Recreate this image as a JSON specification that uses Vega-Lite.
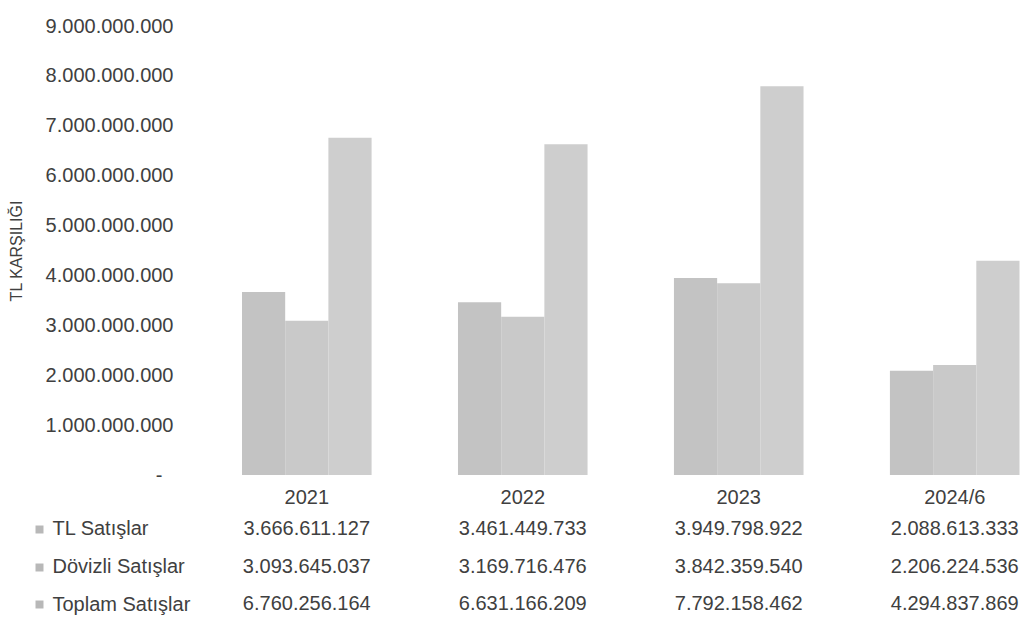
{
  "$schema": "https://vega.github.io/schema/vega-lite/v6.json",
  "padding": {"left": 8, "top": 16, "right": 0, "bottom": 0},
  "background": "white",
  "spacing": 2,
  "config": {
    "locale": {"number": {"decimal": ",", "thousands": ".", "grouping": [3], "currency": ["", " TL"]}},
    "view": {"stroke": null},
    "font": "Liberation Sans",
    "axis": {"labelFont": "Liberation Sans", "titleFont": "Liberation Sans", "labelColor": "#404040", "titleColor": "#404040"}
  },
  "data": {
    "values": [
      {"year": "2021", "series": "TL Satışlar", "value": 3666611127},
      {"year": "2021", "series": "Dövizli Satışlar", "value": 3093645037},
      {"year": "2021", "series": "Toplam Satışlar", "value": 6760256164},
      {"year": "2022", "series": "TL Satışlar", "value": 3461449733},
      {"year": "2022", "series": "Dövizli Satışlar", "value": 3169716476},
      {"year": "2022", "series": "Toplam Satışlar", "value": 6631166209},
      {"year": "2023", "series": "TL Satışlar", "value": 3949798922},
      {"year": "2023", "series": "Dövizli Satışlar", "value": 3842359540},
      {"year": "2023", "series": "Toplam Satışlar", "value": 7792158462},
      {"year": "2024/6", "series": "TL Satışlar", "value": 2088613333},
      {"year": "2024/6", "series": "Dövizli Satışlar", "value": 2206224536},
      {"year": "2024/6", "series": "Toplam Satışlar", "value": 4294837869}
    ]
  },
  "vconcat": [
    {
      "width": 822,
      "height": 449,
      "mark": {"type": "bar"},
      "encoding": {
        "x": {"field": "year", "type": "nominal", "sort": null, "scale": {"type": "band", "paddingInner": 0.4, "paddingOuter": 0.103, "align": 0.944}, "axis": null},
        "xOffset": {"field": "series", "type": "nominal", "sort": ["TL Satışlar", "Dövizli Satışlar", "Toplam Satışlar"]},
        "y": {
          "field": "value", "type": "quantitative",
          "scale": {"domain": [0, 9000000000], "nice": false},
          "axis": {
            "values": [0, 1000000000, 2000000000, 3000000000, 4000000000, 5000000000, 6000000000, 7000000000, 8000000000, 9000000000],
            "format": ",d",
            "labelExpr": "datum.value == 0 ? '-' : datum.label",
            "title": "TL KARŞILIĞI",
            "titleFontSize": 16,
            "titleFontWeight": "normal",
            "titlePadding": 21,
            "labelFontSize": 20,
            "labelPadding": {"condition": {"test": "datum.value == 0", "value": 38}, "value": 27},
            "ticks": false,
            "domain": false,
            "grid": false
          }
        },
        "color": {
          "field": "series", "type": "nominal",
          "scale": {"domain": ["TL Satışlar", "Dövizli Satışlar", "Toplam Satışlar"], "range": ["#c3c3c3", "#c9c9c9", "#cecece"]},
          "legend": null
        }
      }
    },
    {
      "width": 822,
      "height": 113,
      "mark": {"type": "text", "fontSize": 20, "font": "Liberation Sans", "color": "#404040"},
      "encoding": {
        "x": {
          "field": "year", "type": "nominal", "sort": null,
          "scale": {"type": "band", "paddingInner": 0.4, "paddingOuter": 0.103, "align": 0.944},
          "axis": {"orient": "top", "title": null, "labelFontSize": 20, "labelPadding": 3, "ticks": false, "domain": false, "labelAngle": 0}
        },
        "y": {
          "field": "series", "type": "nominal",
          "sort": ["TL Satışlar", "Dövizli Satışlar", "Toplam Satışlar"],
          "axis": {"title": null, "domain": false, "ticks": true, "tickSize": 8, "tickWidth": 8, "tickColor": "#b8b8b8", "offset": 157, "labelAlign": "left", "labelPadding": -17, "labelFontSize": 20}
        },
        "text": {"field": "value", "type": "quantitative", "format": ",d"}
      }
    }
  ]
}
